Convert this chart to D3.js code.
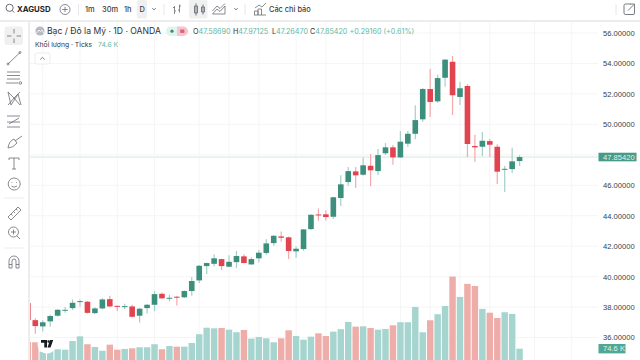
<!DOCTYPE html>
<html>
<head>
<meta charset="utf-8">
<script src="https://cdn.jsdelivr.net/npm/d3@7"></script>
<style>
  html, body { margin: 0; padding: 0; background: #fff; }
  svg { display: block; font-family: Inter, "Noto Sans", sans-serif; }
</style>
</head>
<body>
<div id="chart"></div>
<script>
// first candle sits mostly behind the left toolbar
var opens = [38.26,37.14,36.73,37.06,37.43,37.78,37.93,38.35,38.35,37.60,37.91,38.52,38.08,38.02,38.04,37.43,37.93,38.15,38.87,38.57,38.68,
  38.64,39.05,39.75,40.69,40.84,41.15,40.65,40.95,41.33,40.80,41.20,41.55,42.20,42.64,42.58,41.66,41.81,43.12,44.08,44.09,43.93,45.16,46.21,
  46.91,46.69,47.28,46.93,48.10,48.49,47.83,48.73,49.38,50.33,52.32,51.51,53.06,54.11,51.80,52.52,48.58,48.53,48.90,48.53,47.05,47.06,47.59];
var highs = [38.46,37.26,37.14,37.49,37.87,38.00,38.50,38.50,38.39,37.98,38.57,38.74,38.11,38.22,38.15,37.93,38.20,39.05,38.96,38.81,38.72,
  39.11,39.97,40.76,40.93,41.46,41.17,41.41,41.68,41.46,41.26,41.74,42.45,42.73,42.97,42.64,41.99,43.12,44.09,44.48,44.35,45.25,46.65,47.20,
  47.20,47.83,48.05,48.38,48.77,48.64,49.56,49.56,51.25,52.39,53.64,53.26,54.29,54.49,52.78,52.63,49.32,49.50,49.04,48.69,47.26,48.46,47.97];
var lows = [37.00,36.24,36.40,36.70,37.36,37.62,37.80,38.02,37.58,37.54,37.85,37.98,37.74,37.85,37.32,36.99,37.58,37.72,38.54,38.37,38.10,
  38.59,38.74,39.58,40.17,40.67,40.43,40.61,40.56,40.87,40.78,40.93,41.43,42.03,42.29,41.15,41.24,41.70,43.06,43.67,43.69,43.78,44.63,45.97,
  45.82,46.63,45.93,46.67,47.98,47.35,47.79,48.51,49.02,50.17,50.48,51.42,52.47,50.61,51.27,47.85,47.54,47.92,47.85,46.08,45.55,46.80,47.26];
var closes = [37.14,36.75,37.00,37.41,37.82,37.82,38.28,38.39,37.62,37.91,38.50,38.04,38.04,38.06,37.36,37.89,38.15,38.85,38.57,38.61,38.63,
  39.05,39.71,40.71,40.89,41.20,40.69,40.97,41.35,40.89,41.15,41.57,42.18,42.68,42.55,41.68,41.83,43.10,44.06,44.04,43.91,45.21,46.06,46.93,
  46.65,47.31,46.98,47.98,48.49,47.83,48.86,49.38,50.28,52.32,51.47,53.04,54.25,51.91,52.37,48.71,48.49,48.92,48.66,46.89,47.08,47.57,47.85];
// thousands of ticks
var volumes = [119,117,55,66,71,68,125,156,104,86,61,101,68,73,77,84,84,104,71,92,88,
  88,112,170,213,209,211,200,183,198,141,152,143,117,143,196,158,134,154,176,158,187,203,251,
  220,222,211,200,205,229,249,249,350,183,262,302,356,550,416,502,488,337,312,277,315,304,74.6];

var priceTicks = [36,38,40,42,44,46,50,52,54,56];
var gridCandles = [1,6,11,16,22,26,30,35,39,44,49,53,57,61,67,72];
var lastPrice = 47.8542;
var lastVolume = 74.6;

var menuLabels = [
  {text: "1m", x: 85},
  {text: "30m", x: 102},
  {text: "1h", x: 124},
  {text: "D", x: 139.5}
];
var quoteParts = [
  {label: "O", value: "47.58690", x: 193},
  {label: "H", value: "47.97125", x: 233},
  {label: "L", value: "47.26470", x: 272},
  {label: "C", value: "47.85420", x: 310}
];

var width = 640, height = 360;
var upBody = "#3c8f7c", downBody = "#e2444f";
var upWick = "#a5cfc5", downWick = "#f3a8ac";
var upVol = "#a6d5cf", downVol = "#efada9";
var teal = "#62b8a3", ink = "#2e3138", grid = "#f5f5f6", line = "#ededee";
var scaleFont = "'Liberation Sans', sans-serif";

var svg = d3.select("#chart").append("svg")
  .attr("width", width)
  .attr("height", height);

svg.append("defs").append("clipPath")
  .attr("id", "plot-clip")
  .append("rect")
  .attr("x", 30).attr("y", 22)
  .attr("width", 568).attr("height", 338);

var x = d3.scaleLinear().domain([0, 65]).range([35.3, 519.6]);
var y = d3.scaleLinear().domain([56, 36]).range([33, 337.5]);
var yVol = d3.scaleLinear().domain([0, 600]).range([360, 269]);
var barWidth = x(1) - x(0);

// grid first, everything else goes over it
var gridG = svg.append("g").attr("class", "grid");
gridG.selectAll("line.v")
  .data(gridCandles)
  .enter().append("line")
  .attr("x1", function(d) { return x(d); })
  .attr("x2", function(d) { return x(d); })
  .attr("y1", 22).attr("y2", height)
  .attr("stroke", grid);
gridG.selectAll("line.h")
  .data(priceTicks.concat([48]))
  .enter().append("line")
  .attr("x1", 30).attr("x2", 598)
  .attr("y1", function(d) { return y(d); })
  .attr("y2", function(d) { return y(d); })
  .attr("stroke", grid);

svg.append("line")
  .attr("x1", 30).attr("x2", 598)
  .attr("y1", y(lastPrice)).attr("y2", y(lastPrice))
  .attr("stroke", "#e9f3f0")
  .attr("stroke-width", 2);

var bodyG = svg.append("g").attr("clip-path", "url(#plot-clip)");
var candles = d3.range(opens.length);

function isUp(i) { return closes[i] >= opens[i]; }
function index(i) { return i - 1; }

bodyG.selectAll("rect.vol")
  .data(candles)
  .enter().append("rect")
  .attr("class", "vol")
  .attr("x", function(i) { return x(index(i)) - barWidth / 2 + 0.5; })
  .attr("width", barWidth - 1)
  .attr("y", function(i) { return yVol(volumes[i]); })
  .attr("height", function(i) { return height - yVol(volumes[i]); })
  .attr("fill", function(i) { return isUp(i) ? upVol : downVol; });

bodyG.selectAll("line.wick")
  .data(candles)
  .enter().append("line")
  .attr("class", "wick")
  .attr("x1", function(i) { return x(index(i)); })
  .attr("x2", function(i) { return x(index(i)); })
  .attr("y1", function(i) { return y(highs[i]); })
  .attr("y2", function(i) { return y(lows[i]); })
  .attr("stroke", function(i) { return isUp(i) ? upWick : downWick; })
  .attr("stroke-width", 1.2);

bodyG.selectAll("rect.body")
  .data(candles)
  .enter().append("rect")
  .attr("class", "body")
  .attr("x", function(i) { return x(index(i)) - 2.8; })
  .attr("width", 5.6)
  .attr("y", function(i) { return y(Math.max(opens[i], closes[i])); })
  .attr("height", function(i) { return Math.max(1, Math.abs(y(opens[i]) - y(closes[i]))); })
  .attr("fill", function(i) { return isUp(i) ? upBody : downBody; });

// price scale
var yAxis = d3.axisRight(y)
  .tickValues(priceTicks)
  .tickSize(0)
  .tickPadding(0)
  .tickFormat(d3.format(".5f"));

var axisG = svg.append("g")
  .attr("transform", "translate(603,0)")
  .call(yAxis);
axisG.select(".domain").remove();
axisG.selectAll("text")
  .attr("font-size", 7.6)
  .attr("font-family", scaleFont)
  .attr("fill", "#3a3d44");

function tag(tagX, tagY, w, h, fill, text) {
  svg.append("rect")
    .attr("x", tagX).attr("y", tagY - h / 2)
    .attr("width", w).attr("height", h)
    .attr("fill", fill);
  svg.append("text")
    .attr("x", tagX + 4.5).attr("y", tagY + 2.8)
    .attr("font-size", 7.6)
    .attr("font-family", scaleFont)
    .attr("fill", "#e4f3ef")
    .text(text);
}
tag(598.5, y(lastPrice), 38, 8.6, "#479b87", d3.format(".5f")(lastPrice));
tag(598.5, yVol(lastVolume), 27, 9.4, "#4fa795", lastVolume.toFixed(1) + " K");

// chrome: top bar, left bar
svg.append("rect").attr("x", 0).attr("y", 20).attr("width", width).attr("height", 2).attr("fill", line);
svg.append("rect").attr("x", 28).attr("y", 20).attr("width", 2).attr("height", 340).attr("fill", line);
svg.append("rect").attr("x", 137).attr("y", 0).attr("width", 10).attr("height", 18.5).attr("rx", 2).attr("fill", "#f0f0f1");
svg.append("rect").attr("x", 189).attr("y", 0).attr("width", 18.5).attr("height", 18.5).attr("rx", 2).attr("fill", "#f0f0f1");
svg.append("rect").attr("x", 4.5).attr("y", 26.5).attr("width", 18.5).attr("height", 18.5).attr("rx", 3).attr("fill", "#f0f0f1");

function label(text, lx, ly, size, fill, weight) {
  return svg.append("text")
    .attr("x", lx).attr("y", ly)
    .attr("font-size", size)
    .attr("fill", fill)
    .attr("font-weight", weight || 400)
    .text(text);
}

function icon(d, sw) {
  svg.append("path")
    .attr("d", d)
    .attr("fill", "none")
    .attr("stroke", "#696c73")
    .attr("stroke-width", sw || 0.8);
}

label("XAGUSD", 17, 12.4, 7.8, "#1f2228", 700);
menuLabels.forEach(function(m) { label(m.text, m.x, 12.4, 7.4, "#3a3d44", 500); });
label("Các chỉ báo", 269, 12.4, 7.4, "#3a3d44", 500);

// toolbar separators
[78.5, 164, 245, 616].forEach(function(sx) {
  svg.append("line").attr("x1", sx).attr("x2", sx).attr("y1", 4).attr("y2", 15).attr("stroke", "#e6e6e8");
});

icon("M13.2 7.8 a3.6 3.6 0 1 1 -7.2 0 a3.6 3.6 0 1 1 7.2 0 M12.2 10.5 L14.2 12.5", 1);
icon("M70 9.5 a5 5 0 1 1 -10 0 a5 5 0 1 1 10 0 M65 6.8 V12.2 M62.3 9.5 H67.7");
icon("M152.2 8 L154 10 L155.8 8");
icon("M234.2 8 L236 10 L237.8 8");
icon("M174.5 6 V14 M173 7.5 H174.5 M174.5 11 H176 M179.5 4.5 V12.5 M178 10 H179.5 M179.5 6 H181");
// candle icon in the toolbar
icon("M196 3.5 V15.5 M194.5 6 H197.5 V13 H194.5 Z M203 4.5 V14.5 M201.5 7 H204.5 V12 H201.5 Z", 0.9);
icon("M212.5 14 L217 9 L220 11.5 L225 6 V14 Z M212.5 11 L217 6 L220 8.5 L225 3.5");
icon("M254.5 15 V11 H258 V15 M258 15 V9 H261.5 V15 M254 15 H266 M255 8 L259 5 L262 7 L266 3");
icon("M631 4 H625.5 Q624 4 624 5.5 V13 Q624 14.5 625.5 14.5 H633 Q634.5 14.5 634.5 13 V8 M628 10.5 L634 4.5 M630.5 4 H634.5 V8", 0.9);

// legend
svg.append("circle").attr("cx", 40).attr("cy", 31).attr("r", 4.6).attr("fill", "#b9b9c4");
svg.append("path").attr("d", "M36.5 33 L39 30 L40.5 31.5 L42 30 L43.8 33").attr("fill", "none").attr("stroke", "#fff").attr("stroke-width", 0.8);
label("Bạc / Đô la Mỹ · 1D · OANDA", 47, 34.2, 8.6, ink);
svg.append("rect").attr("x", 166).attr("y", 26.5).attr("width", 22).attr("height", 9.5).attr("rx", 4.7).attr("fill", "#e3f2ee");
svg.append("path").attr("d", "M177 26.5 H183.3 A4.7 4.7 0 0 1 183.3 36 H177 Z").attr("fill", "#f6c6cf");
svg.append("circle").attr("cx", 172).attr("cy", 31.2).attr("r", 1.6).attr("fill", "#2f8f7b");
svg.append("rect").attr("x", 180.2).attr("y", 29.5).attr("width", 4.2).attr("height", 3.4).attr("fill", "#d9627c");

quoteParts.forEach(function(q) {
  var t = label(q.label, q.x, 34, 7.2, ink);
  t.append("tspan").attr("fill", teal).text(q.value);
});
label("+0.29160 (+0.61%)", 349.5, 34, 7.2, teal);

label("Khối lượng · Ticks", 35, 47, 6.8, "#34373e");
label("74.6 K", 98, 47, 6.8, teal);
svg.append("rect").attr("x", 35).attr("y", 53).attr("width", 15).attr("height", 11).attr("rx", 2)
  .attr("fill", "#fff").attr("stroke", "#ececee");
icon("M40.3 59.5 L42.5 57.4 L44.7 59.5", 0.9);

// left toolbar icons
icon("M14 29 V33.5 M14 38.5 V43 M7 36 H11.5 M16.5 36 H21");
icon("M8 64 L20 52.5 M7 64 a1 1 0 1 0 2 0 a1 1 0 1 0 -2 0 M19 52.5 a1 1 0 1 0 2 0 a1 1 0 1 0 -2 0");
icon("M7 72 H20 M7 75.5 H20 M7 79 H20 M6 83 H18 M19 83 a1.3 1.3 0 1 0 2.6 0 a1.3 1.3 0 1 0 -2.6 0");
icon("M8 92 L11 105 L18 94 L21 105 M8 105 L14 98 L20 92 M8 92 L14 98 L20 105");
icon("M7 116 H20 M7 122 H20 M7 127 H20 M9 124 L19 118");
icon("M8 148 Q9 141 14 139 L17 143 Q13 148 8 148 M15 141 L22 136", 0.8);
icon("M9 158 H19 M14 158 V169 M12 169 H16 M9 158 V160 M19 158 V160");
icon("M20.2 184 a6 6 0 1 1 -12 0 a6 6 0 1 1 12 0 M11.5 186 Q14 188.5 17 186 M12 182 V182.8 M16.5 182 V182.8");
svg.append("line").attr("x1", 4).attr("x2", 24).attr("y1", 198).attr("y2", 198).attr("stroke", "#ececee");
icon("M8 217 L18 207 L21 210 L11 220 Z M11 214 L12.5 215.5 M13.5 211.5 L15 213 M16 209 L17.5 210.5");
icon("M18.5 232 a5 5 0 1 1 -10 0 a5 5 0 1 1 10 0 M13.5 229.5 V234.5 M11 232 H16 M17 236 L20 239");
svg.append("line").attr("x1", 4).attr("x2", 24).attr("y1", 248).attr("y2", 248).attr("stroke", "#ececee");
icon("M9 268 V261 a5 5 0 0 1 10 0 V268 H16 V261 a2 2 0 0 0 -4 0 V268 Z M9 264.5 H12 M16 264.5 H19");

// TradingView badge
svg.append("circle").attr("cx", 47).attr("cy", 344).attr("r", 9.5).attr("fill", "#fff");
svg.append("path").attr("d", "M41 340 H47 V347.5 H44.3 V342.8 H41 Z M47.5 347.5 L50 340 H53.2 L50.5 347.5 Z").attr("fill", "#1a1c20");
svg.append("circle").attr("cx", 48.6).attr("cy", 341.5).attr("r", 1.2).attr("fill", "#1a1c20");
</script>
</body>
</html>
